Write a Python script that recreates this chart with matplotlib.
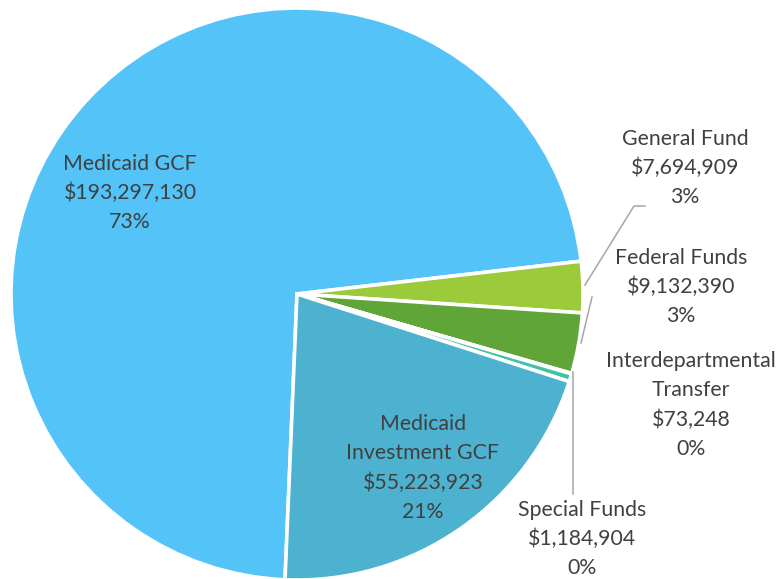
import matplotlib.pyplot as plt

# slice data (clockwise from the Medicaid GCF slice)
names = ["Medicaid GCF", "General Fund", "Federal Funds",
         "Interdepartmental Transfer", "Special Funds", "Medicaid Investment GCF"]
amounts = [193297130, 7694909, 9132390, 73248, 1184904, 55223923]
label_text = [
    "Medicaid GCF\n$193,297,130\n73%",
    "General Fund\n$7,694,909\n3%",
    "Federal Funds\n$9,132,390\n3%",
    "Interdepartmental\nTransfer\n$73,248\n0%",
    "Special Funds\n$1,184,904\n0%",
    "Medicaid\nInvestment GCF\n$55,223,923\n21%",
]
colors = ["#53C3F8", "#9BCB3B", "#5FA538", "#3C8FB8", "#3EC3A5", "#4DB1D0"]

# label centres in pixel space
label_pos = [(130, 193), (685, 168), (681, 287), (691, 405), (582, 539), (423, 468)]

fig = plt.figure(figsize=(7.84, 5.79), dpi=100)
ax = fig.add_axes([0, 0, 1, 1])

cx, cy, r = 297, -294, 286
ax.pie(amounts, colors=colors, startangle=267.6, counterclock=False,
       center=(cx, cy), radius=r, frame=True,
       wedgeprops=dict(edgecolor="white", linewidth=2.6))
ax.set_xlim(0, 784)
ax.set_ylim(-579, 0)
ax.set_aspect("equal")
ax.axis("off")

for txt, (x, y) in zip(label_text, label_pos):
    ax.text(x, -y, txt, ha="center", va="center", fontsize=15.3,
            family="Lato", color="#404040", linespacing=1.56)

# leader lines
lc = "#A6A6A6"
ax.plot([645, 634, 585], [-206, -206, -285], color=lc, lw=1.1)
ax.plot([592, 581], [-297, -343], color=lc, lw=1.1)
ax.plot([573, 573], [-372, -494], color=lc, lw=1.1)

fig.savefig("out.png", dpi=100)
